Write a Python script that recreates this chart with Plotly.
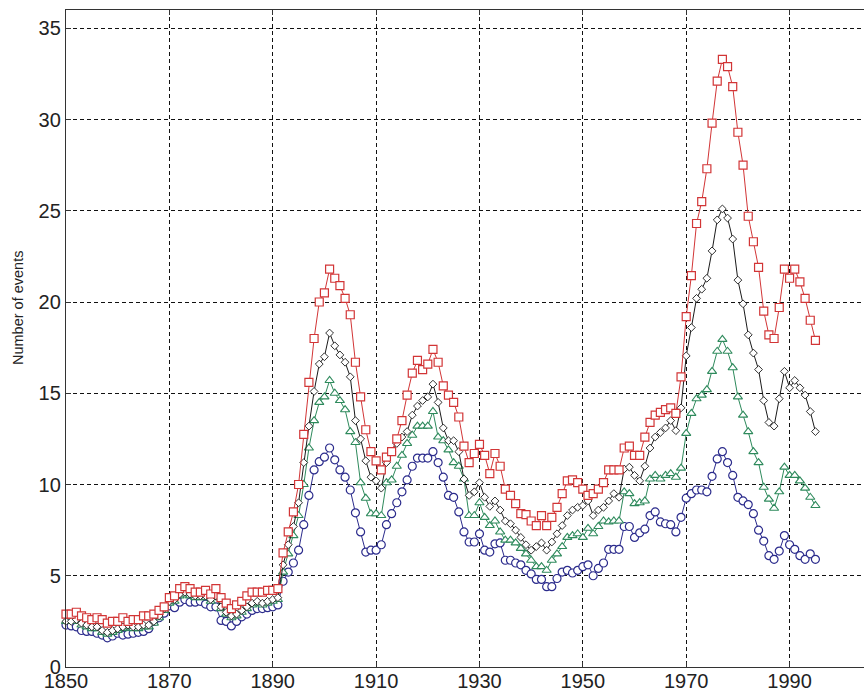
import plotly.graph_objects as go

years = list(range(1850, 1996))

# Annual event counts, four series
red_sq = [
    2.9, 2.9, 3.0, 2.8, 2.7, 2.6, 2.7, 2.6, 2.4, 2.5,
    2.5, 2.7, 2.5, 2.6, 2.6, 2.8, 2.8, 2.9, 3.1, 3.3,
    3.8, 3.9, 4.3, 4.4, 4.3, 4.1, 4.1, 4.2, 4.0, 4.3,
    3.8, 3.5, 3.2, 3.4, 3.6, 3.9, 4.1, 4.1, 4.1, 4.2,
    4.2, 4.3, 6.25, 7.4, 8.5, 10.0, 12.75, 15.6, 18.0, 20.0,
    20.5, 21.8, 21.3, 20.9, 20.2, 19.3, 16.7, 14.8, 13.0, 11.8,
    11.3, 10.8, 11.5, 11.8, 12.5, 13.5, 14.9, 16.1, 16.8, 16.3,
    16.6, 17.4, 16.7, 15.4, 14.9, 14.5, 13.7, 12.1, 11.2, 11.7,
    12.2, 11.6, 10.6, 11.7, 11.0, 9.75, 9.4, 8.95, 8.4, 8.35,
    8.0, 7.75, 8.3, 7.75, 8.2, 8.75, 9.5, 10.2, 10.25, 10.1,
    9.75, 9.4, 9.5, 9.75, 10.1, 10.8, 10.8, 10.8, 12.0, 12.1,
    11.6, 11.6, 12.6, 13.4, 13.8, 13.95, 14.1, 14.2, 13.9, 15.9,
    19.2, 21.45, 24.3, 25.5, 27.3, 29.8, 32.1, 33.3, 32.9, 31.8,
    29.3, 27.5, 24.7, 23.3, 21.9, 19.5, 18.2, 18.0, 19.7, 21.8,
    21.3, 21.8, 21.1, 20.2, 19.0, 17.9,
]

black_dm = [
    2.5, 2.5, 2.6, 2.4, 2.3, 2.2, 2.2, 2.0, 1.9, 2.0,
    2.1, 2.2, 2.3, 2.2, 2.2, 2.3, 2.3, 2.5, 2.8, 3.2,
    3.6, 3.7, 4.0, 4.1, 4.0, 3.9, 3.9, 3.9, 3.7, 3.9,
    3.3, 3.0, 2.8, 2.9, 3.1, 3.3, 3.5, 3.6, 3.5, 3.6,
    3.7, 3.8, 5.6, 6.7, 7.7, 9.0, 11.2, 13.2, 15.1, 16.6,
    17.0, 18.3, 17.6, 17.1, 16.7, 15.9, 13.5, 12.5, 11.3, 10.4,
    10.2, 9.8, 11.2, 11.8, 12.25, 12.6, 12.9, 13.8, 14.3, 14.6,
    14.8, 15.5, 14.5, 13.1, 12.4, 12.4, 11.8, 10.3, 9.4, 9.6,
    10.1, 9.3, 8.8, 9.1, 8.6, 8.0, 7.85, 7.5, 7.1, 6.7,
    6.4, 6.6, 6.8, 6.4, 6.85, 7.3, 7.75, 8.3, 8.6, 8.75,
    8.85, 9.1, 8.3, 8.6, 8.75, 9.1, 9.5, 9.3, 10.85, 10.95,
    10.5, 10.2, 11.0, 12.0, 12.6, 12.85, 13.1, 13.5, 12.95, 14.2,
    17.05, 18.6, 20.2, 20.7, 21.3, 22.8, 24.5, 25.1, 24.6, 23.45,
    21.2, 19.9, 18.2, 17.2, 16.3, 14.6, 13.4, 13.2, 14.7, 16.2,
    15.3, 15.7, 15.3, 14.9, 14.0, 12.9,
]

green_tr = [
    2.5, 2.5, 2.5, 2.3, 2.2, 2.1, 2.1, 1.9, 1.8, 1.9,
    2.0, 2.1, 2.2, 2.1, 2.1, 2.2, 2.2, 2.4, 2.7, 3.1,
    3.5, 3.6, 3.9, 4.0, 3.9, 3.8, 3.8, 3.8, 3.6, 3.8,
    3.2, 2.9, 2.7, 2.8, 3.0, 3.2, 3.4, 3.5, 3.4, 3.5,
    3.6, 3.7, 5.2, 6.2, 7.2, 8.3, 10.0, 12.0, 13.5, 14.5,
    14.8, 15.7, 15.0, 14.6, 14.1, 12.9, 12.3, 10.1, 9.25, 8.4,
    8.4, 8.3, 10.1, 10.25, 11.0, 11.6, 12.25, 12.7, 13.2, 13.2,
    13.2, 14.0, 12.6, 12.4, 11.9, 11.2, 11.0, 10.3, 8.3, 8.3,
    9.0, 8.2, 7.75, 8.0, 7.4, 6.95, 6.95, 6.8, 6.5, 6.2,
    5.85, 5.5, 5.5, 5.3, 5.85, 6.2, 6.6, 7.1, 7.2, 7.3,
    7.1, 7.6, 7.3, 7.7, 8.0, 7.95, 8.0, 8.0, 9.6, 9.5,
    8.95, 9.0, 9.1, 10.3, 10.5, 10.3, 10.5, 10.6, 10.4, 10.9,
    12.8, 13.9, 14.7, 14.9, 15.2, 16.2, 17.3, 17.95, 17.3, 16.4,
    14.8, 13.8, 12.9, 11.8, 11.2, 9.85, 9.2, 8.7, 9.6, 10.95,
    10.5, 10.5, 10.2, 9.8, 9.3, 8.85,
]

blue_ci = [
    2.3, 2.25, 2.2, 2.0, 1.95, 1.95, 1.85, 1.75, 1.6, 1.7,
    1.85, 1.75, 1.8, 1.85, 1.9, 1.95, 2.1, 2.5, 2.7, 2.95,
    3.35, 3.25, 3.55, 3.7, 3.55, 3.55, 3.6, 3.45, 3.3, 3.3,
    2.55, 2.5, 2.25, 2.5, 2.75, 2.9, 3.1, 3.2, 3.2, 3.25,
    3.3, 3.4, 4.7, 5.2, 5.7, 6.4, 7.8, 9.4, 10.8, 11.25,
    11.5, 12.0, 11.35, 10.8, 10.4, 9.7, 8.45, 7.4, 6.3, 6.4,
    6.4, 6.7, 7.8, 8.4, 9.0, 9.6, 10.25, 11.0, 11.45, 11.45,
    11.45, 11.8, 11.2, 10.4, 9.4, 9.3, 8.5, 7.4, 6.85, 6.85,
    7.3, 6.4, 6.3, 6.75, 6.8, 5.85, 5.85, 5.7, 5.6, 5.3,
    5.1, 4.8, 4.8, 4.4, 4.4, 4.85, 5.2, 5.3, 5.15, 5.3,
    5.5, 5.6, 5.0, 5.4, 5.7, 6.45, 6.45, 6.45, 7.7, 7.7,
    7.1, 7.35, 7.55, 8.3, 8.5, 7.95, 7.85, 7.8, 7.4, 8.2,
    9.25, 9.5, 9.7, 9.7, 9.6, 10.45, 11.4, 11.8, 11.2, 10.5,
    9.3, 9.1, 8.9, 8.4, 7.5, 6.9, 6.1, 5.9, 6.35, 7.2,
    6.7, 6.45, 6.1, 5.9, 6.2, 5.9,
]

y_ticks = [0, 5, 10, 15, 20, 25, 30, 35]
x_ticks = [1850, 1870, 1890, 1910, 1930, 1950, 1970, 1990, 2010]

# (values, colour, marker symbol, marker size, marker outline width)
series = [
    (blue_ci, "#2b2b8c", "circle", 8, 1.2),
    (green_tr, "#2e8a5c", "triangle-up", 8, 1.1),
    (black_dm, "#1a1a1a", "diamond", 6, 0.9),
    (red_sq, "#d23536", "square", 8, 1.2),
]

fig = go.Figure()
for vals, color, symbol, size, edge in series:
    fig.add_trace(go.Scatter(
        x=years, y=vals, mode="lines+markers",
        line=dict(color=color, width=1),
        marker=dict(symbol=symbol, size=size, color="white",
                    line=dict(color=color, width=edge)),
        showlegend=False, cliponaxis=False,
    ))

font_family = "Liberation Sans, Arial, sans-serif"
fig.update_layout(
    width=864, height=691,
    margin=dict(l=66, r=0, t=10, b=24, autoexpand=False),
    paper_bgcolor="white", plot_bgcolor="white",
    font=dict(family=font_family, color="#222"),
    xaxis=dict(
        range=[1850, 2004.4], tickmode="array", tickvals=x_ticks,
        tickfont=dict(size=20), ticks="inside", ticklen=5,
        ticklabelstandoff=-4,
        tickcolor="#333", showline=True, linecolor="#333", linewidth=1.3,
        mirror="ticks", showgrid=True, gridcolor="#111", gridwidth=1,
        griddash="4px,3px", zeroline=False, automargin=False,
    ),
    yaxis=dict(
        range=[0, 36], tickmode="array", tickvals=y_ticks,
        tickfont=dict(size=20), ticks="inside", ticklen=5,
        tickcolor="#333", showline=True, linecolor="#333", linewidth=1.3,
        mirror=False, showgrid=True, gridcolor="#111", gridwidth=1,
        griddash="4px,3px", zeroline=False, automargin=False,
    ),
    annotations=[dict(
        text="Number of events", textangle=-90,
        xref="paper", yref="paper",
        x=(18 - 66) / 798, y=(667 - 308) / 657,
        xanchor="center", yanchor="middle", showarrow=False,
        font=dict(size=14.5, family=font_family, color="#222"),
    )],
)

fig.write_html("out.html")
